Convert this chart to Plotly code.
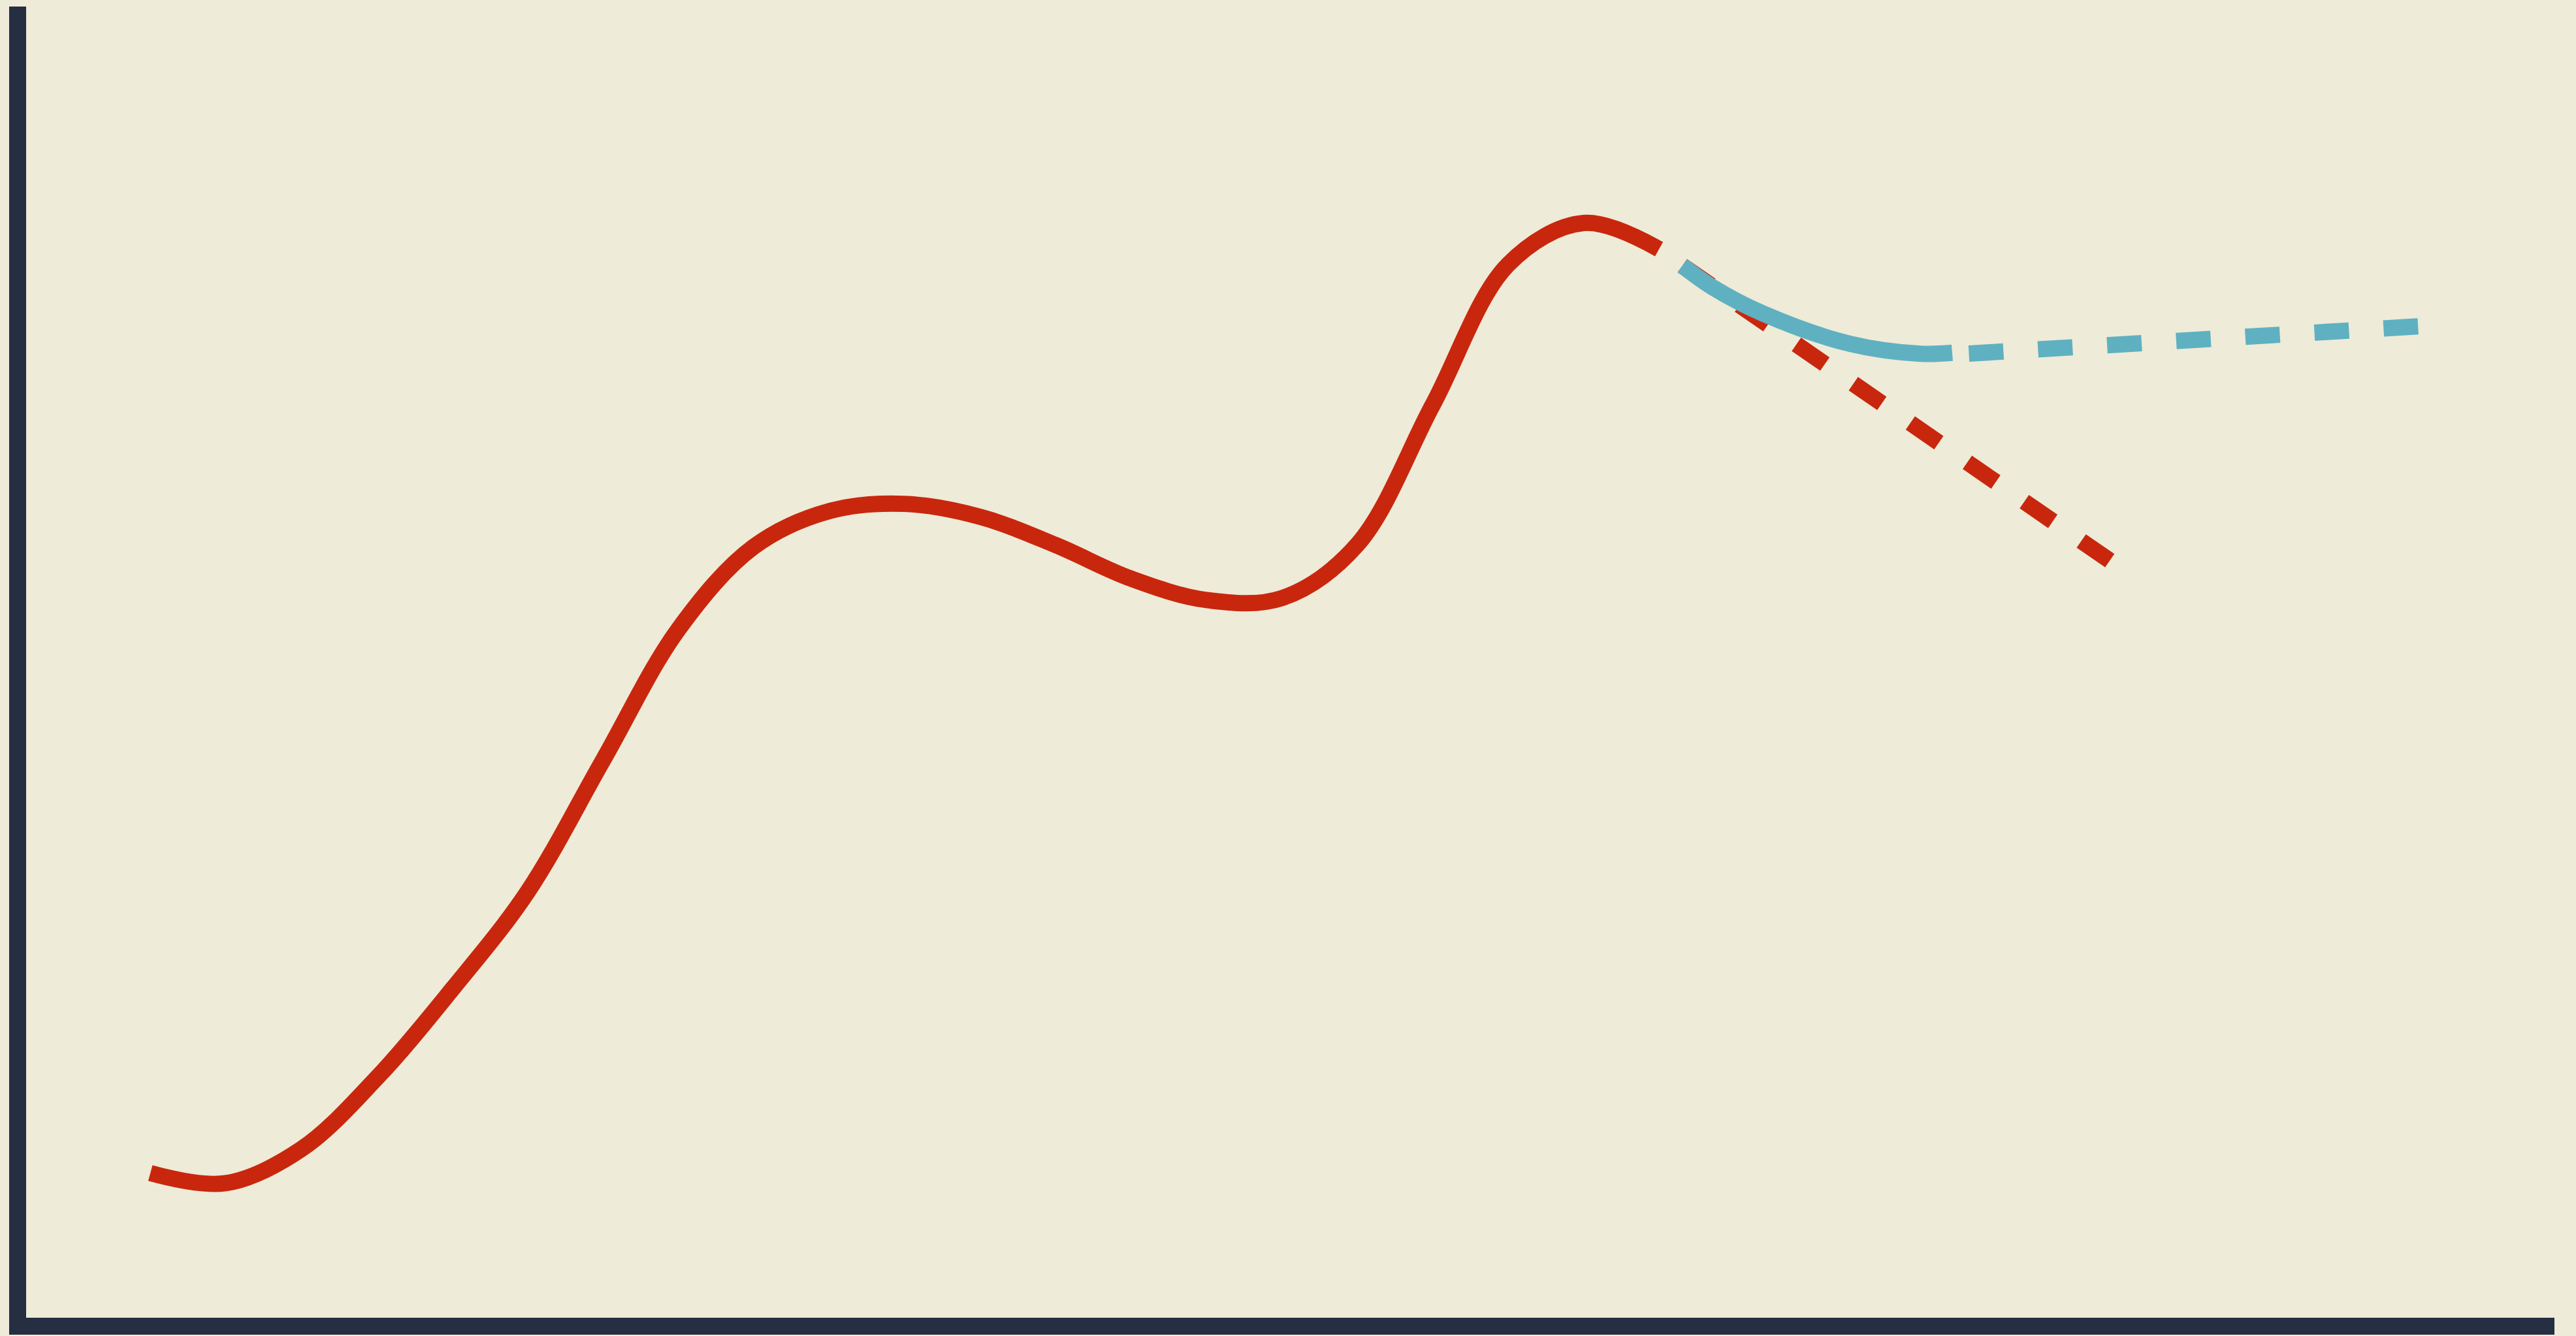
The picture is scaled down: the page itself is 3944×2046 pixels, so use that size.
import plotly.graph_objects as go

# Historical series (solid red), evenly spaced periods
hist_x = [4.913, 7.897, 10.881, 13.865, 16.849, 19.832, 22.813, 25.797, 28.781,
          31.765, 34.748, 37.732, 40.716, 43.700, 46.683, 49.667, 52.651, 55.634,
          58.618, 61.602, 64.585]
hist_y = [11.03, 10.26, 12.85, 18.28, 25.05, 32.47, 42.50, 52.50, 58.80,
          61.52, 62.07, 61.08, 58.93, 56.37, 54.74, 54.88, 58.96, 69.62,
          80.33, 83.49, 81.50]

# Red dashed projection
proj_red_x = [65.51, 82.54]
proj_red_y = [80.23, 57.57]

# Teal solid projection
proj_teal_x = [65.51, 66.70, 68.69, 72.15, 74.92, 76.18]
proj_teal_y = [80.23, 78.59, 76.59, 74.27, 73.52, 73.59]

# Teal dashed projection
proj_teal2_x = [76.84, 94.70]
proj_teal2_y = [73.53, 75.62]

RED = "#C8270E"
TEAL = "#5FB1C1"
AXIS = "#262F42"
BG = "#EEEBD8"
LW = 25

fig = go.Figure()
fig.add_trace(go.Scatter(x=proj_red_x, y=proj_red_y, mode="lines",
                         line=dict(color=RED, width=LW, dash="53px,53px")))
fig.add_trace(go.Scatter(x=hist_x, y=hist_y, mode="lines",
                         line=dict(color=RED, width=LW, shape="spline", smoothing=1.0)))
fig.add_trace(go.Scatter(x=proj_teal_x, y=proj_teal_y, mode="lines",
                         line=dict(color=TEAL, width=LW, shape="spline", smoothing=1.0)))
fig.add_trace(go.Scatter(x=proj_teal2_x, y=proj_teal2_y, mode="lines",
                         line=dict(color=TEAL, width=LW, dash="53px,53px")))

axis_common = dict(showgrid=False, zeroline=False, showticklabels=False, ticks="",
                   showline=True, linewidth=26, linecolor=AXIS, fixedrange=True)
fig.update_layout(
    width=3944, height=2046,
    margin=dict(l=40, r=33, t=10, b=28, pad=0),
    paper_bgcolor=BG, plot_bgcolor=BG,
    showlegend=False,
    xaxis=dict(range=[0, 100], **axis_common),
    yaxis=dict(range=[0, 100], **axis_common),
)
fig.write_html(
    "out.html",
    config={"displayModeBar": False},
    post_script="document.body.style.margin='0';document.body.style.overflow='hidden';",
)
